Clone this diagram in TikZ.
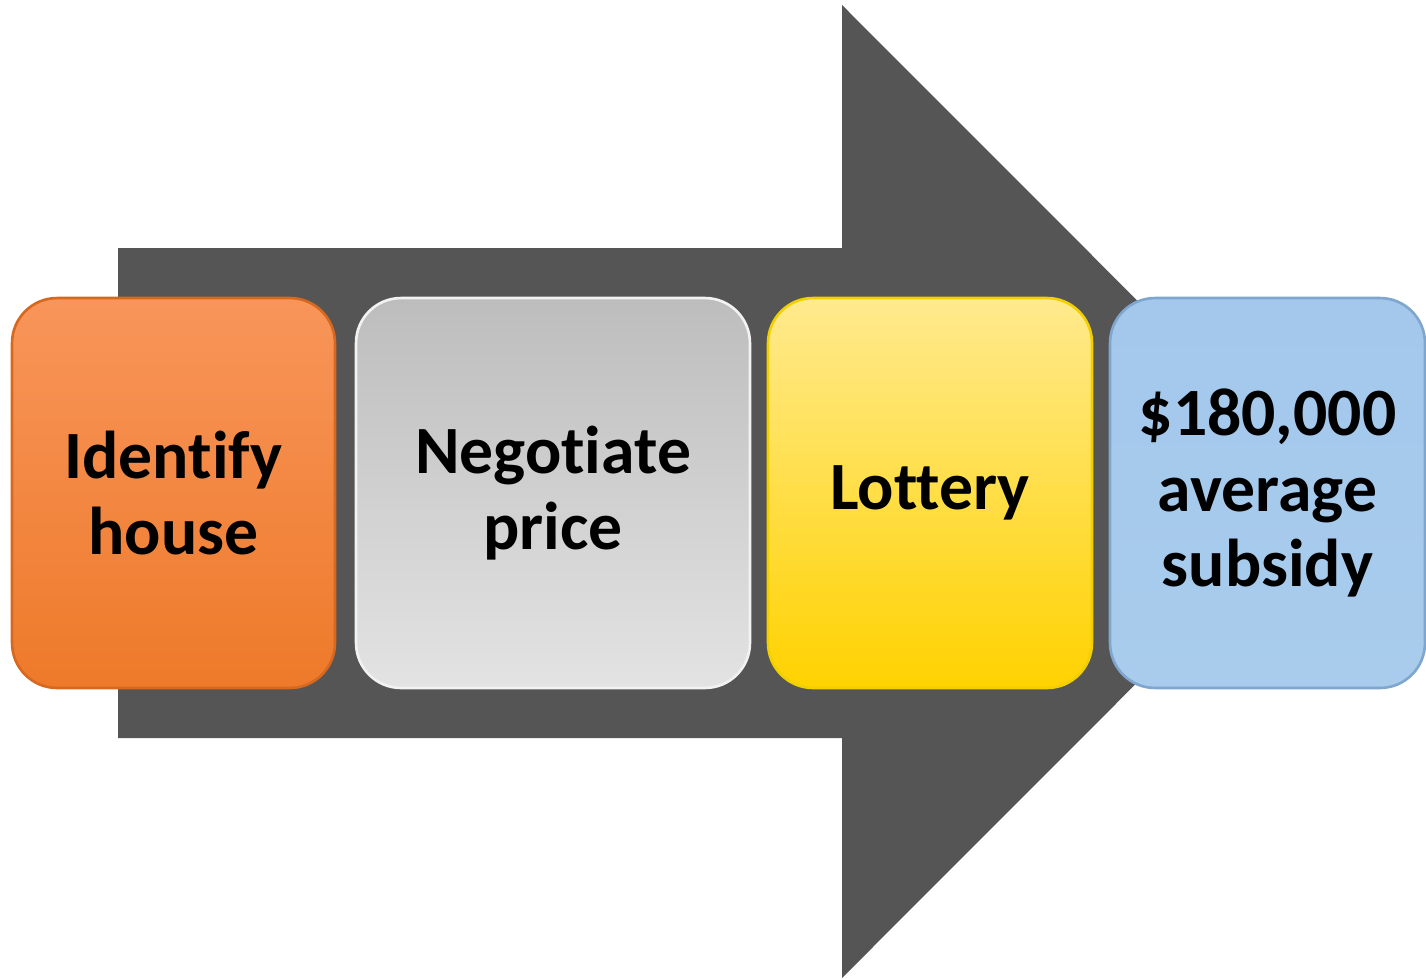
\documentclass[tikz,border=0pt]{standalone}
\usepackage{fontspec}
\setmainfont{Carlito}[Ligatures={NoCommon,NoRare,NoContextual}]
\definecolor{arrowgray}{HTML}{555555}
\definecolor{orangetop}{HTML}{F8955A}
\definecolor{orangemid}{HTML}{FBB68C}
\definecolor{orangebot}{HTML}{EE7A2A}
\definecolor{orangeedge}{HTML}{D6691F}
\definecolor{graytop}{HTML}{BDBDBD}
\definecolor{graymid}{HTML}{D2D2D2}
\definecolor{graybot}{HTML}{E3E3E3}
\definecolor{grayedge}{HTML}{F2F2F2}
\definecolor{yellowtop}{HTML}{FFEA8E}
\definecolor{yellowmid}{HTML}{FFE35C}
\definecolor{yellowbot}{HTML}{FFD200}
\definecolor{yellowedge}{HTML}{F2D000}
\definecolor{bluetop}{HTML}{A3C8EC}
\definecolor{bluebot}{HTML}{A9CCEC}
\definecolor{blueedge}{HTML}{7FA6CE}

\begin{document}
\begin{tikzpicture}[x=0.02cm,y=-0.02cm,
  stepbox/.style={rounded corners=0.9cm, minimum height=7.8cm, inner sep=0pt,
    align=center, line width=1.5pt,
    font=\fontsize{38.5}{43}\selectfont\bfseries}]
\useasboundingbox (0,0) rectangle (1426,978);

% big arrow behind the steps
\fill[arrowgray] (118,248) -- (842,248) -- (842,5) -- (1328,491.5)
  -- (842,978) -- (842,738) -- (118,738) -- cycle;

% steps
\node[stepbox, minimum width=6.46cm, draw=orangeedge,
  top color=orangetop, middle color=orangemid, bottom color=orangebot]
  (house) at (173.5,493) {Identify\\house};
\node[stepbox, minimum width=7.88cm, draw=grayedge,
  top color=graytop, middle color=graymid, bottom color=graybot]
  (price) at (553,493) {Negotiate\\price};
\node[stepbox, minimum width=6.48cm, draw=yellowedge,
  top color=yellowtop, middle color=yellowmid, bottom color=yellowbot]
  (lottery) at (930,493) {Lottery};
\node[stepbox, minimum width=6.3cm, draw=blueedge,
  top color=bluetop, bottom color=bluebot]
  (subsidy) at (1267.5,493) {\$180,000\\average\\subsidy};

\end{tikzpicture}
\end{document}
